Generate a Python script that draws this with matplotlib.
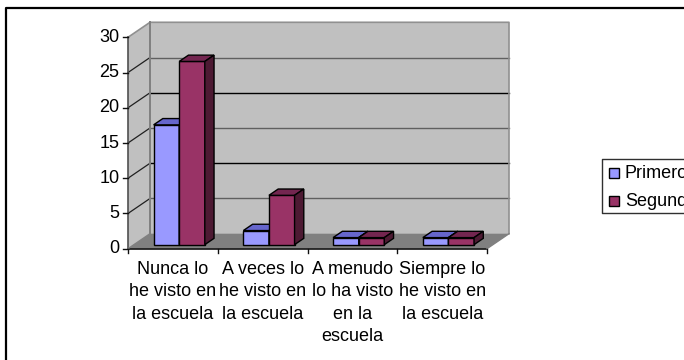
import matplotlib as mpl
mpl.use('Agg')
from matplotlib import pyplot as plt
from matplotlib.patches import Polygon

categories = ['Nunca lo\nhe visto en\nla escuela', 'A veces lo\nhe visto en\nla escuela',
              'A menudo\nlo ha visto\nen la\nescuela', 'Siempre lo\nhe visto en\nla escuela']
primero = [17, 2, 1, 1]
segundo = [26, 7, 1, 1]
series_names = ['Primero', 'Segundo']
y_ticks = [0, 5, 10, 15, 20, 25, 30]

plt.rc('font', family='Liberation Sans', size=13)

W, H = 684, 360
fig = plt.figure(figsize=(W / 100, H / 100), dpi=100, facecolor='white')

# front plane of the fake 3d box, in pixels
left, right, top, bottom = 128, 487, 37.3, 248.7
ax = fig.add_axes([left / W, 1 - bottom / H, (right - left) / W, (bottom - top) / H])
ax.set_xlim(0, 4)
ax.set_ylim(0, 30)
ax.axis('off')

# depth of the box in data units
dx = 22 / ((right - left) / 4)
dy = 15 / ((bottom - top) / 30)
# where bars sit inside the depth
bar_dy0 = 0.27 * dy
bar_dx, bar_dy = 0.42 * dx, 0.42 * dy
bar_w = 25.6 / ((right - left) / 4)
bar_start = 25.6 / ((right - left) / 4)


def poly(pts, fc, ec='none', lw=0, z=1):
    ax.add_patch(Polygon(pts, closed=True, facecolor=fc, edgecolor=ec, linewidth=lw,
                         zorder=z, clip_on=False, joinstyle='miter'))


# walls and floor
poly([(dx, dy), (4 + dx, dy), (4 + dx, 30 + dy), (dx, 30 + dy)], '#c0c0c0')
poly([(0, 0), (dx, dy), (dx, 30 + dy), (0, 30)], '#c0c0c0')
poly([(0, 0), (4, 0), (4 + dx, dy), (dx, dy)], '#808080')

# gridlines alternate dark grey and black in the original
for v in y_ticks[1:-1]:
    c = '#000000' if v in (10, 20) else '#606060'
    ax.plot([dx, 4 + dx], [v + dy, v + dy], color=c, lw=1.0, zorder=2, clip_on=False)
    ax.plot([0, dx], [v, v + dy], color='#202020', lw=0.9, zorder=2, clip_on=False)
ax.plot([0, dx, 4 + dx, 4 + dx], [30, 30 + dy, 30 + dy, dy], color='#909090', lw=1.2, zorder=2, clip_on=False)
ax.plot([dx, dx], [dy, 30 + dy], color='#808080', lw=1.4, zorder=2, clip_on=False)

# axes
ax.plot([0, 0], [0, 30], color='#505050', lw=1.2, zorder=3, clip_on=False)
ax.plot([0, 4], [0, 0], color='#101010', lw=1.2, zorder=3, clip_on=False)
ax.plot([4, 4 + dx], [0, dy], color='#808080', lw=1.0, zorder=3, clip_on=False)
ax.plot([0, dx], [0, dy], color='#808080', lw=1.0, zorder=3, clip_on=False)
for v in y_ticks:
    ax.plot([-0.055, 0], [v, v], color='#101010', lw=1.0, zorder=3, clip_on=False)
    ax.text(-0.095, v, str(v), ha='right', va='center', color='black')
for i in range(5):
    ax.plot([i, i], [0, -0.6], color='#101010', lw=1.0, zorder=3, clip_on=False)

colors = [('#9999ff', '#6666cc', '#4d4d99'), ('#993366', '#732650', '#4d1a33')]
for s, values in enumerate([primero, segundo]):
    face, top_c, side_c = colors[s]
    for i, v in enumerate(values):
        x0 = i + bar_start + s * bar_w
        x1 = x0 + bar_w
        y0 = bar_dy0
        y1 = v + bar_dy0
        z = 5 + i * 2 + s
        poly([(x0, y0), (x1, y0), (x1, y1), (x0, y1)], face, 'black', 1.0, z)
        poly([(x0, y1), (x1, y1), (x1 + bar_dx, y1 + bar_dy), (x0 + bar_dx, y1 + bar_dy)], top_c, 'black', 1.0, z)
        poly([(x1, y0), (x1 + bar_dx, y0 + bar_dy), (x1 + bar_dx, y1 + bar_dy), (x1, y1)], side_c, 'black', 1.0, z)

for i, label in enumerate(categories):
    ax.text(i + 0.5, -1.75, label, ha='center', va='top', linespacing=1.42, color='black')

# chart border, cut off by the image on the right and bottom
fig.add_artist(plt.Line2D([6 / W, 6 / W, 1], [0, 1 - 7.5 / H, 1 - 7.5 / H], color='black', lw=1.6))

# legend box runs off the image
leg_x, leg_y0, leg_y1 = 602, 158.5, 213
fig.add_artist(plt.Line2D([1, leg_x / W, leg_x / W, 1],
                          [1 - leg_y0 / H, 1 - leg_y0 / H, 1 - leg_y1 / H, 1 - leg_y1 / H],
                          color='#303030', lw=1.0))
for name, c, y in zip(series_names, ['#9999ff', '#993366'], [173, 201]):
    fig.add_artist(plt.Rectangle((609 / W, 1 - (y + 5) / H), 10 / W, 10 / H, facecolor=c,
                                 edgecolor='black', linewidth=1.0, transform=fig.transFigure))
    fig.text(625 / W, 1 - y / H, name, ha='left', va='center', color='black')

plt.savefig('out.png', dpi=100, facecolor='white')
